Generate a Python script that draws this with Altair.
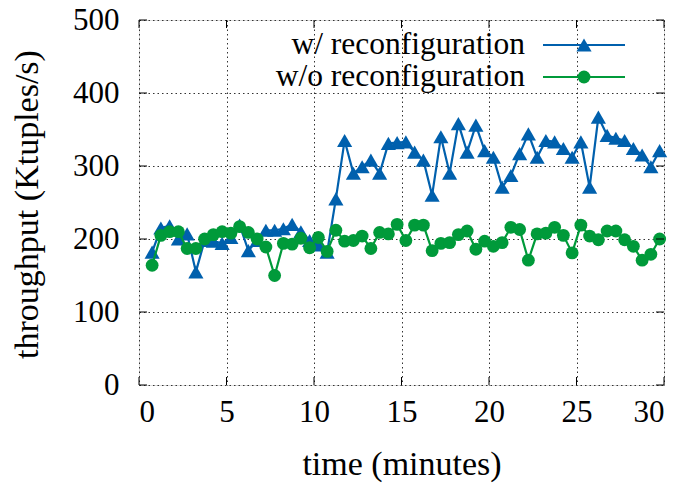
import altair as alt
import pandas as pd

# sampling times (minutes)
times = [0.75, 1.25, 1.75, 2.25, 2.75, 3.25, 3.75, 4.25, 4.75, 5.25,
         5.75, 6.25, 6.75, 7.25, 7.75, 8.25, 8.75, 9.25, 9.75, 10.25,
         10.75, 11.25, 11.75, 12.25, 12.75, 13.25, 13.75, 14.25, 14.75, 15.25,
         15.75, 16.25, 16.75, 17.25, 17.75, 18.25, 18.75, 19.25, 19.75, 20.25,
         20.75, 21.25, 21.75, 22.25, 22.75, 23.25, 23.75, 24.25, 24.75, 25.25,
         25.75, 26.25, 26.75, 27.25, 27.75, 28.25, 28.75, 29.25, 29.75]

# throughput (Ktuples/s)
with_reconf = [182, 215, 218, 200, 207, 155, 198, 197, 194, 202,
               219, 184, 198, 212, 212, 214, 220, 210, 198, 192,
               182, 255, 335, 290, 299, 308, 290, 331, 332, 333,
               319, 308, 260, 340, 290, 358, 319, 356, 321, 312,
               271, 287, 317, 344, 312, 335, 333, 324, 312, 333,
               271, 367, 342, 338, 335, 324, 315, 299, 321]

without_reconf = [164, 205, 210, 210, 187, 187, 200, 206, 210, 208,
                  217, 209, 200, 189, 150, 194, 193, 201, 188, 202,
                  183, 212, 197, 198, 204, 187, 209, 207, 220, 198,
                  219, 219, 184, 194, 195, 206, 211, 186, 197, 190,
                  195, 216, 213, 171, 207, 208, 216, 205, 181, 219,
                  204, 199, 211, 211, 199, 190, 171, 179, 200]

series_names = ["w/ reconfiguration", "w/o reconfiguration"]
x_ticks = [0, 5, 10, 15, 20, 25, 30]
y_ticks = [0, 100, 200, 300, 400, 500]

BLUE = "#0060ad"
GREEN = "#009a3a"
FONT = "Liberation Serif"
W, H = 525, 365
TRI, CIR = 230, 165

df_a = pd.DataFrame({"time": times, "value": with_reconf})
df_b = pd.DataFrame({"time": times, "value": without_reconf})
xt = pd.DataFrame({"time": x_ticks})
yt = pd.DataFrame({"value": y_ticks})

xscale = alt.Scale(domain=[0, 30], nice=False, zero=False)
yscale = alt.Scale(domain=[0, 500], nice=False)

xaxis = alt.Axis(values=x_ticks, grid=True, gridColor="#333", gridDash=[1.5, 3],
                 gridWidth=1, tickSize=0, domain=False, labelPadding=12,
                 labelFontSize=31, labelFont=FONT, labelColor="black",
                 title="time (minutes)", titleFontSize=34, titleFont=FONT,
                 titleFontWeight="normal", titleColor="black",
                 titleX=W / 2, titleY=79, titleBaseline="middle", titleAlign="center")
yaxis = alt.Axis(values=y_ticks, grid=True, gridColor="#333", gridDash=[1.5, 3],
                 gridWidth=1, tickSize=0, domain=False, labelPadding=20,
                 labelFontSize=31, labelFont=FONT, labelColor="black",
                 title="throughput (Ktuples/s)", titleFontSize=34, titleFont=FONT,
                 titleFontWeight="normal", titleColor="black",
                 titleX=-112, titleY=184, titleAngle=-90,
                 titleBaseline="middle", titleAlign="center")

X = alt.X("time:Q", scale=xscale, axis=xaxis)
Y = alt.Y("value:Q", scale=yscale, axis=yaxis)


def series_layers(df, color, shape, size):
    base = alt.Chart(df)
    line = base.mark_line(color=color, strokeWidth=2.2).encode(x=X, y=Y)
    pts = base.mark_point(shape=shape, filled=True, color=color, size=size,
                          opacity=1).encode(x=X, y=Y)
    return [line, pts]


layers = []
layers += series_layers(df_a, BLUE, "triangle-up", TRI)
layers += series_layers(df_b, GREEN, "circle", CIR)

# inward ticks (gnuplot style, mirrored)
TL = 8
layers.append(alt.Chart(xt).mark_rule(color="black", strokeWidth=1).encode(
    x=X, y=alt.value(H), y2=alt.value(H - TL)))
layers.append(alt.Chart(xt).mark_rule(color="black", strokeWidth=1).encode(
    x=X, y=alt.value(0), y2=alt.value(TL)))
layers.append(alt.Chart(yt).mark_rule(color="black", strokeWidth=1).encode(
    y=Y, x=alt.value(0), x2=alt.value(TL)))
layers.append(alt.Chart(yt).mark_rule(color="black", strokeWidth=1).encode(
    y=Y, x=alt.value(W), x2=alt.value(W - TL)))

# legend (inside, top right)
one = alt.Data(values=[{"k": 1}])
for name, color, shape, size, ly in [(series_names[0], BLUE, "triangle-up", TRI, 25),
                                     (series_names[1], GREEN, "circle", CIR, 57)]:
    layers.append(alt.Chart(one).mark_text(text=name, align="right", baseline="middle",
                                           font=FONT, fontSize=31.5, color="black").encode(
        x=alt.value(386), y=alt.value(ly)))
    layers.append(alt.Chart(one).mark_rule(color=color, strokeWidth=2.2).encode(
        x=alt.value(404), x2=alt.value(486), y=alt.value(ly)))
    layers.append(alt.Chart(one).mark_point(shape=shape, filled=True, color=color,
                                            size=size, opacity=1).encode(
        x=alt.value(445), y=alt.value(ly)))

chart = alt.layer(*layers).properties(
    width=W, height=H,
    autosize="none",
    padding={"left": 131, "top": 12, "right": 16, "bottom": 98},
).configure_view(stroke="black", strokeWidth=1.5).configure(background="white")

chart.save("out.html", embed_options={"renderer": "svg", "actions": False})
